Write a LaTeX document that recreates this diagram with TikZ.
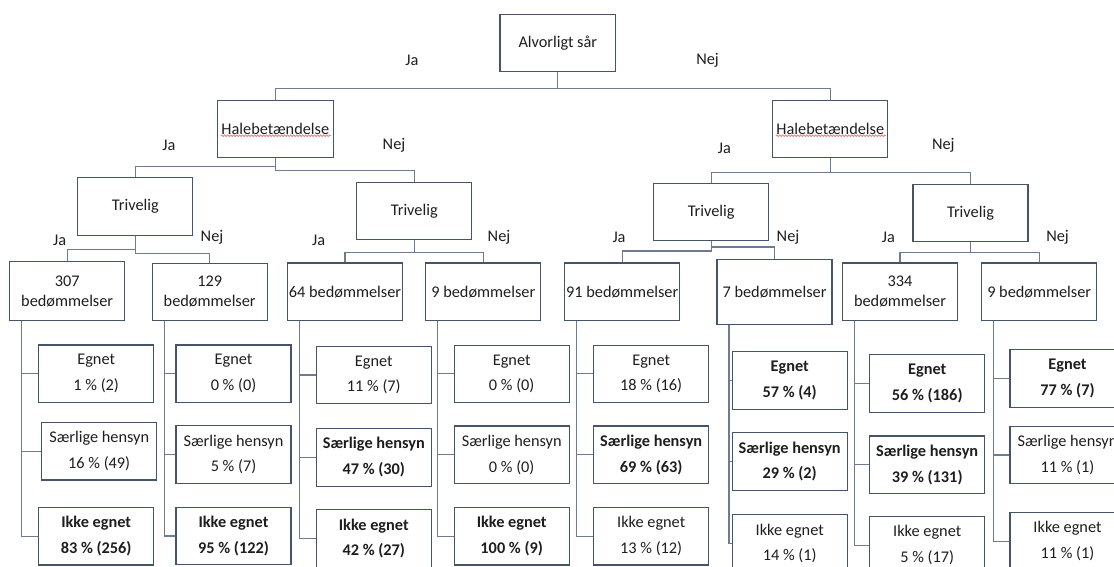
\documentclass[tikz,border=0pt]{standalone}
\usepackage{fontspec}
\setmainfont{Carlito}
\usetikzlibrary{decorations.pathmorphing}
\definecolor{boxc}{HTML}{44546A}
\definecolor{connc}{HTML}{6E7C90}
\definecolor{txtc}{HTML}{1E1E1E}
\definecolor{wavc}{HTML}{F06060}
\newcommand\cl[1]{\makebox[0pt]{#1}}
\newcommand\lf[2]{\cl{#1}\\\cl{#2}}
\newcommand\blf[2]{\cl{\bfseries #1}\\\cl{\bfseries #2}}
\begin{document}
\begin{tikzpicture}[x=1pt,y=-1pt,
  box/.style={draw=boxc, line width=1.1pt, fill=white, minimum width=115pt, minimum height=57.5pt,
    inner sep=0pt, align=center, text=txtc, font=\fontsize{16.3}{20}\selectfont},
  leaf/.style={box, font=\fontsize{16.3}{25.7}\selectfont},
  lab/.style={inner sep=0pt, text=txtc, font=\fontsize{16.3}{20}\selectfont},
  conn/.style={draw=connc, line width=1.2pt},
  wavy/.style={draw=wavc, line width=0.6pt, decorate, decoration={snake, amplitude=0.8pt, segment length=3pt}}]
\useasboundingbox (0,0) rectangle (1114,567);
\clip (0,0) rectangle (1114,567);
% level 1-3
\node[box, minimum width=115.7pt, minimum height=57.4pt] (root) at (557.8,43) {\cl{Alvorligt sår}};
\node[box, minimum width=116pt] (hL) at (275.3,129.2) {\cl{Halebetændelse}};
\node[box] (hR) at (830.3,129.2) {\cl{Halebetændelse}};
\node[box] (tLL) at (135.4,206.5) {\cl{Trivelig}};
\node[box] (tLR) at (414.3,211) {\cl{Trivelig}};
\node[box] (tRL) at (711.2,212) {\cl{Trivelig}};
\node[box] (tRR) at (970.5,213) {\cl{Trivelig}};
\draw[wavy] ([shift={(-54.6,6.5)}]hL.center) -- ([shift={(55.4,6.5)}]hL.center);
\draw[wavy] ([shift={(-54.6,6.5)}]hR.center) -- ([shift={(55.4,6.5)}]hR.center);
% level 4
\node[box, minimum height=59pt] (b1) at (67.2,291.2) {\lf{307}{bedømmelser}};
\node[box] (b2) at (209.7,292) {\lf{129}{bedømmelser}};
\node[box] (b3) at (345,291.7) {\cl{64 bedømmelser}};
\node[box] (b4) at (483.3,291.7) {\cl{9 bedømmelser}};
\node[box] (b5) at (622.2,291.7) {\cl{91 bedømmelser}};
\node[box, minimum height=64.7pt] (b6) at (774.5,291.7) {\cl{7 bedømmelser}};
\node[box] (b7) at (900,291.7) {\lf{334}{bedømmelser}};
\node[box] (b8) at (1039.2,291.7) {\cl{9 bedømmelser}};
% labels
\node[lab] (l1) at (411.8,60) {Ja};
\node[lab] (l2) at (707.6,60) {Nej};
\node[lab] (l3) at (169,145.7) {Ja};
\node[lab] (l4) at (394,145.7) {Nej};
\node[lab] (l5) at (724.4,148) {Ja};
\node[lab] (l6) at (943.3,145.7) {Nej};
\node[lab] (l7) at (59.6,240.7) {Ja};
\node[lab] (l8) at (212,237.3) {Nej};
\node[lab] (l9) at (318.6,240.7) {Ja};
\node[lab] (l10) at (499,237.3) {Nej};
\node[lab] (l11) at (619,237.3) {Ja};
\node[lab] (l12) at (788,237.3) {Nej};
\node[lab] (l13) at (888.3,237.3) {Ja};
\node[lab] (l14) at (1057.6,237.3) {Nej};
% leaves
\node[leaf] (e1) at (96.2,373.7) {\lf{Egnet}{1 \% (2)}};
\node[leaf] (s1) at (99.2,451.2) {\lf{Særlige hensyn}{16 \% (49)}};
\node[leaf] (i1) at (96.2,536.2) {\blf{Ikke egnet}{83 \% (256)}};
\node[leaf] (e2) at (233.5,373.7) {\lf{Egnet}{0 \% (0)}};
\node[leaf] (s2) at (233.5,454.5) {\lf{Særlige hensyn}{5 \% (7)}};
\node[leaf] (i2) at (233.5,536) {\blf{Ikke egnet}{95 \% (122)}};
\node[leaf] (e3) at (373.8,375) {\lf{Egnet}{11 \% (7)}};
\node[leaf] (s3) at (373.8,457.3) {\blf{Særlige hensyn}{47 \% (30)}};
\node[leaf] (i3) at (373.8,538.5) {\blf{Ikke egnet}{42 \% (27)}};
\node[leaf] (e4) at (511.7,373.8) {\lf{Egnet}{0 \% (0)}};
\node[leaf] (s4) at (511.7,454.7) {\lf{Særlige hensyn}{0 \% (0)}};
\node[leaf] (i4) at (511.7,536.2) {\blf{Ikke egnet}{100 \% (9)}};
\node[leaf] (e5) at (651.2,373.8) {\lf{Egnet}{18 \% (16)}};
\node[leaf] (s5) at (651.2,454.7) {\blf{Særlige hensyn}{69 \% (63)}};
\node[leaf] (i5) at (651.2,536.2) {\lf{Ikke egnet}{13 \% (12)}};
\node[leaf] (e6) at (789.7,380.5) {\blf{Egnet}{57 \% (4)}};
\node[leaf] (s6) at (789.7,461.5) {\blf{Særlige hensyn}{29 \% (2)}};
\node[leaf] (i6) at (789.7,543.5) {\lf{Ikke egnet}{14 \% (1)}};
\node[leaf] (e7) at (927.2,383.3) {\blf{Egnet}{56 \% (186)}};
\node[leaf] (s7) at (927.2,464.7) {\blf{Særlige hensyn}{39 \% (131)}};
\node[leaf] (i7) at (927.2,545.3) {\lf{Ikke egnet}{5 \% (17)}};
\node[leaf] (e8) at (1067.5,378.3) {\blf{Egnet}{77 \% (7)}};
\node[leaf] (s8) at (1067.5,455) {\lf{Særlige hensyn}{11 \% (1)}};
\node[leaf] (i8) at (1067.5,541.3) {\lf{Ikke egnet}{11 \% (1)}};
% tree connectors
\draw[conn] (root.south) -- ++(0,16) -| (hL.north);
\draw[conn] (root.south) -- ++(0,16) -| (hR.north);
\draw[conn] (hL.south) -- ++(0,8) -| (tLL.north);
\draw[conn] (hL.south) -- ++(0,12.3) -| (tLR.north);
\draw[conn] (hR.south) -- ++(0,14) -| (tRL.north);
\draw[conn] (hR.south) -- ++(0,14) -| (tRR.north);
\draw[conn] (tLL.south) -- ++(0,13.7) -| (b1.north);
\draw[conn] (tLL.south) -- ++(0,17.7) -| (b2.north);
\draw[conn] (tLR.south) -- ++(0,12) -| (b3.north);
\draw[conn] (tLR.south) -- ++(0,12) -| (b4.north);
\draw[conn] (tRL.south) -- ++(0,9.7) -| (b5.north);
\draw[conn] (tRL.south) -- ++(0,5.7) -| (b6.north);
\draw[conn] (tRR.south) -- ++(0,10) -| (b7.north);
\draw[conn] (tRR.south) -- ++(0,10) -| (b8.north);
% spines
\foreach \n in {1,...,8}{
  \coordinate (p\n) at ([xshift=-45.5pt]b\n.south);
  \draw[conn] (p\n) |- (i\n.west);
  \draw[conn] (p\n |- e\n.west) -- (e\n.west);
  \draw[conn] (p\n |- s\n.west) -- (s\n.west);
}
\end{tikzpicture}
\end{document}
